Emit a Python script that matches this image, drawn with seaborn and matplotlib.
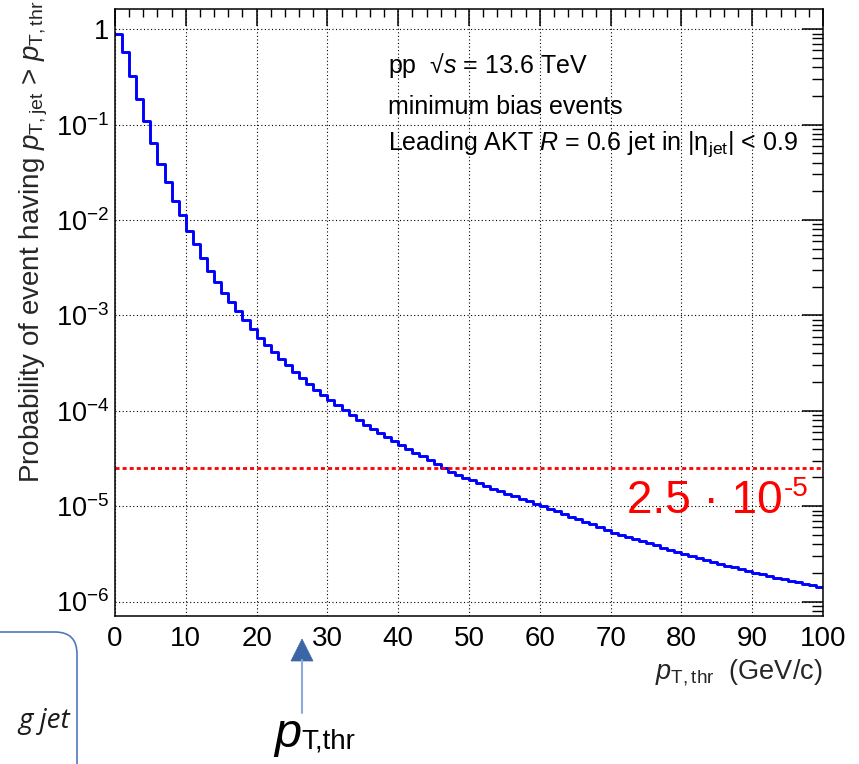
import numpy as np
import pandas as pd
import matplotlib
matplotlib.use("Agg")
import matplotlib.pyplot as plt
import matplotlib.ticker as mticker
import matplotlib.patches as mpatches
import matplotlib.lines as mlines
from matplotlib.transforms import IdentityTransform
import seaborn as sns

# ---------------- data ----------------
bin_low = list(range(0, 100))          # pT,thr bin lower edges (GeV/c), width 1
probability = [
    0.885, 0.573, 0.323, 0.184, 0.108, 0.0645, 0.039, 0.025, 0.016, 0.0112,
    7.7e-3, 5.6e-3, 4.0e-3, 2.9e-3, 2.23e-3, 1.72e-3, 1.37e-3, 1.10e-3, 8.9e-4, 7.2e-4,
    5.8e-4, 4.95e-4, 4.15e-4, 3.5e-4, 3.0e-4, 2.55e-4, 2.2e-4, 1.9e-4, 1.65e-4, 1.48e-4,
    1.31e-4, 1.14e-4, 1.01e-4, 8.95e-5, 7.95e-5, 7.05e-5, 6.45e-5, 5.85e-5, 5.25e-5, 4.78e-5,
    4.38e-5, 3.97e-5, 3.6e-5, 3.32e-5, 3.05e-5, 2.78e-5, 2.5e-5, 2.3e-5, 2.13e-5, 1.97e-5,
    1.86e-5, 1.74e-5, 1.63e-5, 1.53e-5, 1.44e-5, 1.35e-5, 1.27e-5, 1.19e-5, 1.12e-5, 1.06e-5,
    1.0e-5, 9.4e-6, 8.8e-6, 8.25e-6, 7.75e-6, 7.3e-6, 6.85e-6, 6.45e-6, 6.05e-6, 5.65e-6,
    5.25e-6, 4.98e-6, 4.74e-6, 4.5e-6, 4.28e-6, 4.07e-6, 3.87e-6, 3.68e-6, 3.5e-6, 3.32e-6,
    3.15e-6, 3.0e-6, 2.87e-6, 2.74e-6, 2.61e-6, 2.5e-6, 2.38e-6, 2.28e-6, 2.18e-6, 2.08e-6,
    1.99e-6, 1.92e-6, 1.85e-6, 1.78e-6, 1.72e-6, 1.66e-6, 1.6e-6, 1.54e-6, 1.48e-6, 1.42e-6,
]
threshold = 2.5e-5
x_ticks = [0, 10, 20, 30, 40, 50, 60, 70, 80, 90, 100]
y_ticks = [1, 1e-1, 1e-2, 1e-3, 1e-4, 1e-5, 1e-6]
y_tick_labels = ["1", r"$10^{-1}$", r"$10^{-2}$", r"$10^{-3}$", r"$10^{-4}$",
                 r"$10^{-5}$", r"$10^{-6}$"]
info_lines = ["pp  \u221a$s$ = 13.6 TeV",
              "minimum bias events",
              "Leading AKT $R$ = 0.6 jet in |\u03b7$_{\\mathrm{jet}}$| < 0.9"]

# ---------------- style ----------------
sns.set_style("white")
plt.rcParams["font.family"] = ["Liberation Sans", "DejaVu Sans"]
plt.rcParams["mathtext.fontset"] = "custom"
plt.rcParams["mathtext.rm"] = "Liberation Sans"
plt.rcParams["mathtext.it"] = "Liberation Sans:italic"
plt.rcParams["mathtext.bf"] = "Liberation Sans:bold"
plt.rcParams["mathtext.sf"] = "Liberation Sans"

W, H = 859, 764
fig = plt.figure(figsize=(W / 100, H / 100), dpi=100)
fig.patch.set_facecolor("white")
ax = fig.add_axes([115 / W, 1 - 616 / H, (823 - 115) / W, (616 - 9) / H])

df = pd.DataFrame({"pt": np.array(bin_low) + 0.5, "prob": probability})
sns.histplot(data=df, x="pt", weights="prob", binwidth=1, binrange=(0, 100),
             element="step", fill=False, color="#0000ff", linewidth=2.1, ax=ax)
ax.set_yscale("log")
ax.set_xlim(0, 100)
ax.set_ylim(7.05e-7, 1.63)
ax.set_xlabel("")
ax.set_ylabel("")

ax.axhline(threshold, color="red", linestyle=(0, (1.45, 1.1)), linewidth=2.0)

# ticks
ax.set_xticks(x_ticks)
ax.set_xticklabels([str(t) for t in x_ticks])
ax.xaxis.set_minor_locator(mticker.MultipleLocator(2))
ax.set_yticks(y_ticks)
ax.set_yticklabels(y_tick_labels)
ax.yaxis.set_minor_locator(mticker.LogLocator(base=10, subs=np.arange(2, 10), numticks=30))
ax.yaxis.set_minor_formatter(mticker.NullFormatter())
ax.tick_params(which="both", direction="in", top=True, right=True, colors="black")
ax.tick_params(axis="x", which="major", length=12.2, width=1.1, labelsize=20, pad=7)
ax.tick_params(axis="x", which="minor", length=5.4, width=1.0)
ax.tick_params(axis="y", which="major", length=14.8, width=1.1, labelsize=19.5, pad=4)
ax.tick_params(axis="y", which="minor", length=8.0, width=1.0)
for s in ax.spines.values():
    s.set_linewidth(1.1)
    s.set_color("black")

ax.grid(which="major", color="black", linestyle=(0, (1, 2.2)), linewidth=0.8)
ax.set_axisbelow(True)

# info text
bases = [73, 114, 150]
for txt, b in zip(info_lines, bases):
    ax.text((388 - 115) / 708, (616 - b) / 607, txt, transform=ax.transAxes,
            fontsize=18, ha="left", va="baseline", color="black")

# red threshold label
main = ax.text((783 - 115) / 708, (616 - 513) / 607, "2.5 \u00b7 10",
               transform=ax.transAxes, fontsize=33, color="red",
               ha="right", va="baseline")
ax.annotate("-5", xy=(1, 1), xycoords=main, xytext=(0.5, 2),
            textcoords="offset points", fontsize=20, color="red",
            ha="left", va="top")

# axis titles
fig.text(34 / W, 1 - 1 / H,
         r"Probability of event having $p_{\mathrm{T,jet}}$ > $p_{\mathrm{T,thr}}$",
         rotation=90, ha="center", va="top", fontsize=20)
fig.text(823 / W, 1 - 679 / H, r"$p_{\mathrm{T,thr}}$  (GeV/c)",
         ha="right", va="baseline", fontsize=19.5)

# ---------------- outside decorations ----------------
ident = IdentityTransform()
box = mpatches.FancyBboxPatch((-40, -40), 117, 172,
                              boxstyle="round,pad=0,rounding_size=22",
                              transform=ident, fill=False,
                              edgecolor="#4f79b8", linewidth=1.2)
fig.add_artist(box)
fig.text(70, H - 728, "g jet", transform=ident, ha="right", va="baseline",
         fontsize=20, style="italic", family=["Open Sans", "DejaVu Sans"], color="#1a1a1a")

shaft = mlines.Line2D([302, 302], [H - 713, H - 660], transform=ident,
                      color="#8eaadb", linewidth=1.5)
fig.add_artist(shaft)
head = mpatches.Polygon([[291, H - 661], [313, H - 661], [302, H - 639]],
                        closed=True, transform=ident, facecolor="#3a66a8",
                        edgecolor="#3a66a8", linewidth=0.5)
fig.add_artist(head)
fig.text(301, H - 747, "p", transform=ident, ha="right", va="baseline",
         fontsize=35, style="italic", color="black")
fig.text(301, H - 748, "T,thr", transform=ident, ha="left", va="baseline",
         fontsize=20, color="black")

fig.savefig("out.png", dpi=100)
